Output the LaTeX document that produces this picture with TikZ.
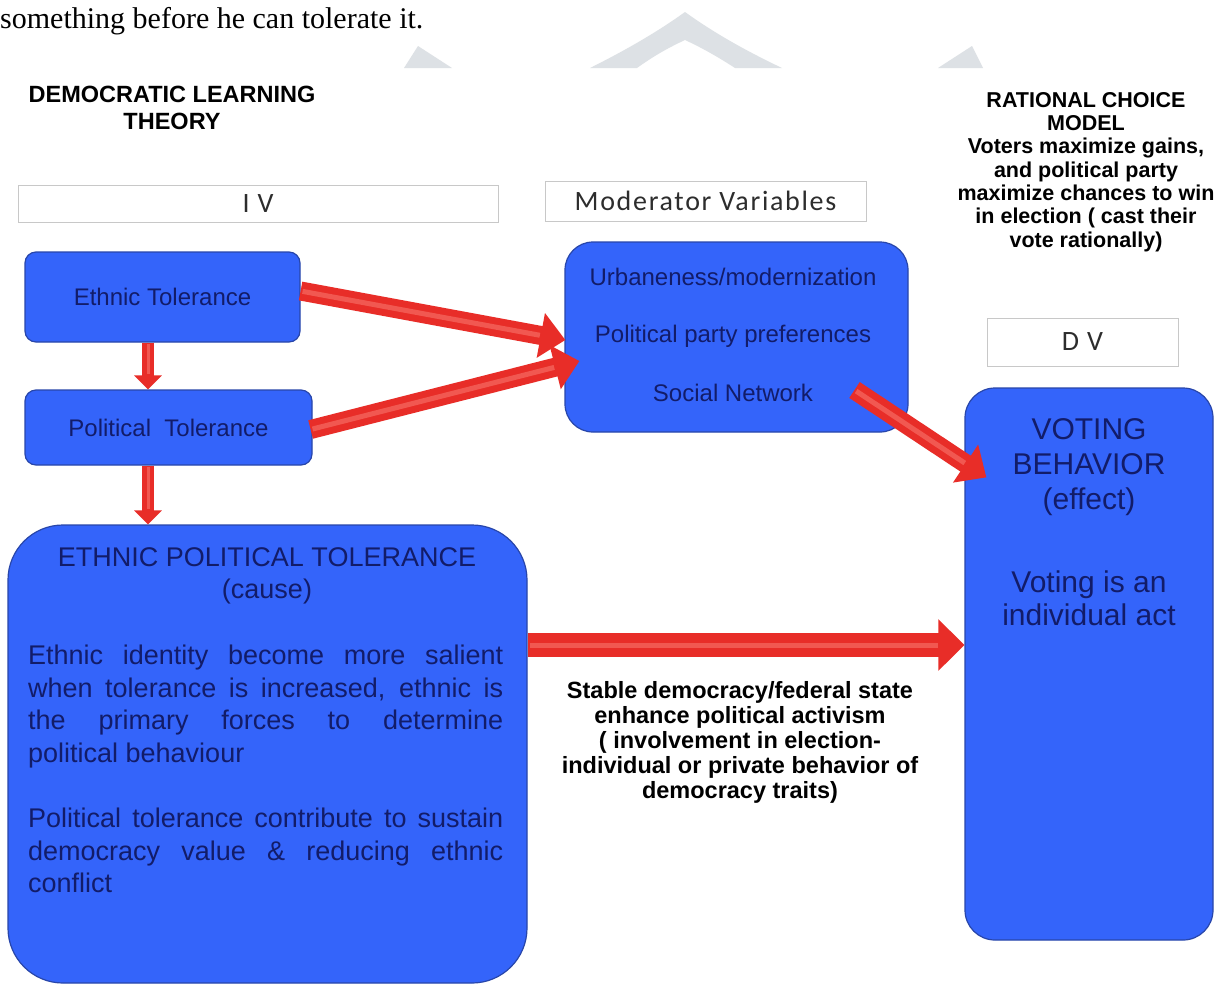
\documentclass[tikz,border=0pt]{standalone}
\usepackage{fontspec}
\setmainfont{Liberation Sans}
\newfontfamily\serifft{Liberation Serif}
\newfontfamily\calib[LetterSpace=6]{Carlito}
\usetikzlibrary{arrows.meta}
\definecolor{boxblue}{RGB}{52,100,250}
\definecolor{boxborder}{RGB}{40,70,170}
\definecolor{navy}{RGB}{18,28,105}
\definecolor{arrowred}{RGB}{232,45,40}
\definecolor{arrowlight}{RGB}{250,125,115}
\definecolor{labgrey}{RGB}{200,200,200}
\definecolor{labtext}{RGB}{45,45,45}
\definecolor{wm}{RGB}{221,225,229}
\begin{document}
\begin{tikzpicture}[x=1pt,y=-1pt,
  bluebox/.style={draw=boxborder, fill=boxblue, line width=1.2pt, text=navy, inner sep=0pt},
  labbox/.style={draw=labgrey, fill=white, line width=1pt, text=labtext, inner sep=0pt,
     font=\calib\fontsize{28}{30}\selectfont},
  headtext/.style={font=\bfseries\fontsize{21.5}{23.3}\selectfont, align=center, text=black, inner sep=0pt},
  intext/.style={text=navy, font=\fontsize{24}{26}\selectfont, inner sep=0pt},
  bigarrow/.style={draw=arrowred, line width=19pt, -{Triangle[width=44pt,length=25pt]},
     postaction={draw=arrowlight, line width=5pt, draw opacity=0.55, -, shorten >=26pt, shorten <=2pt}},
  smallarrow/.style={draw=arrowred, line width=12pt, -{Triangle[width=27pt,length=14pt]},
     postaction={draw=arrowlight, line width=3pt, draw opacity=0.55, -, shorten >=15pt, shorten <=1pt}}
]
\useasboundingbox[fill=white] (0,0) rectangle (1221,986);

% watermark
\fill[wm] (404,68) -- (418,46) -- (452,68) -- cycle;
\fill[wm] (590,68) .. controls (630,48) and (660,30) .. (685,12)
  .. controls (710,30) and (740,48) .. (782,68) -- (735,68)
  .. controls (715,55) and (700,47) .. (685,40)
  .. controls (670,47) and (655,55) .. (637,68) -- cycle;
\fill[wm] (938,68) -- (972,46) -- (983,68) -- cycle;

% top text
\node[anchor=base west, inner sep=0pt, font=\serifft\fontsize{30}{32}\selectfont] (toptext) at (0,28)
  {something before he can tolerate it.};

% headers
\node[headtext, font=\bfseries\fontsize{23.5}{27}\selectfont] (dlt) at (172,108) {DEMOCRATIC LEARNING\\THEORY};
\node[headtext] (rcm) at (1086,172) {RATIONAL CHOICE\\MODEL\\Voters maximize gains,\\and political party\\maximize chances to win\\in election ( cast their\\vote rationally)};

% label boxes
\node[labbox, minimum width=480pt, minimum height=37pt] (iv) at (258,203.5) {I V};
\node[labbox, minimum width=321pt, minimum height=40pt] (modlab) at (705.5,201) {Moderator Variables};
\node[labbox, minimum width=191pt, minimum height=48pt] (dv) at (1082.5,342) {D V};

% blue boxes
\node[bluebox, rounded corners=11pt, minimum width=275pt, minimum height=90pt,
  font=\fontsize{24}{26}\selectfont] (et) at (162.5,297) {Ethnic Tolerance};
\node[bluebox, rounded corners=11pt, minimum width=287pt, minimum height=75pt,
  font=\fontsize{24}{26}\selectfont] (pt) at (168.5,427.5) {Political\ \ Tolerance};
\node[bluebox, rounded corners=28pt, minimum width=343pt, minimum height=190pt] (mod) at (736.5,337) {};
\node[intext] (m1) at (733,277) {Urbaneness/modernization};
\node[intext] (m2) at (733,336) {Political party preferences};
\node[intext] (m3) at (733,393) {Social Network};

\node[bluebox, rounded corners=55pt, minimum width=519pt, minimum height=458pt] (ept) at (267.5,754) {};
\node[text=navy, font=\fontsize{27}{32}\selectfont, align=center, inner sep=0pt] (eptt) at (267,576)
  {ETHNIC POLITICAL TOLERANCE\\(cause)};
\node[text=navy, font=\fontsize{27}{32.5}\selectfont, text width=475pt, align=justify, inner sep=0pt,
  anchor=north west] (eptp) at (28,645)
  {\hyphenpenalty=10000 Ethnic identity become more salient\linebreak
   when tolerance is increased, ethnic is\linebreak
   the primary forces to determine\linebreak
   political behaviour\par\vspace{33pt}
   Political tolerance contribute to sustain\linebreak
   democracy value \& reducing ethnic\linebreak
   conflict};

\node[bluebox, rounded corners=30pt, minimum width=248pt, minimum height=552pt] (vb) at (1089,664) {};
\node[text=navy, font=\fontsize{30}{35}\selectfont, align=center, inner sep=0pt] (vbt) at (1089,467)
  {VOTING\\BEHAVIOR\\(effect)};
\node[text=navy, font=\fontsize{30}{33}\selectfont, align=center, inner sep=0pt] (vbs) at (1089,598)
  {Voting is an\\individual act};

% arrows
\draw[smallarrow] ([xshift=-14.5pt]et.south) -- ([xshift=-20.5pt]pt.north);
\draw[smallarrow] ([xshift=-20.5pt]pt.south) -- ([xshift=-119.5pt]ept.north);
\draw[bigarrow] ([yshift=6pt]et.east) -- ([xshift=1pt,yshift=-3pt]mod.west);
\draw[bigarrow] ([xshift=-2pt,yshift=-2pt]pt.east) -- ([xshift=15pt,yshift=-24pt]mod.west);
\draw[bigarrow] ([xshift=118pt,yshift=-53pt]mod.center) -- ([xshift=22pt,yshift=-90pt]vb.north west);
\draw[bigarrow, line width=24pt, -{Triangle[width=50pt,length=26pt]}]
  ([yshift=109pt]ept.east) -- ([yshift=109pt]ept.east -| vb.west);

% arrow label
\node[font=\bfseries\fontsize{23.5}{25}\selectfont, align=center, inner sep=0pt] (stab) at (740,742)
  {Stable democracy/federal state\\enhance political activism\\( involvement in election-\\individual or private behavior of\\democracy traits)};
\end{tikzpicture}
\end{document}
